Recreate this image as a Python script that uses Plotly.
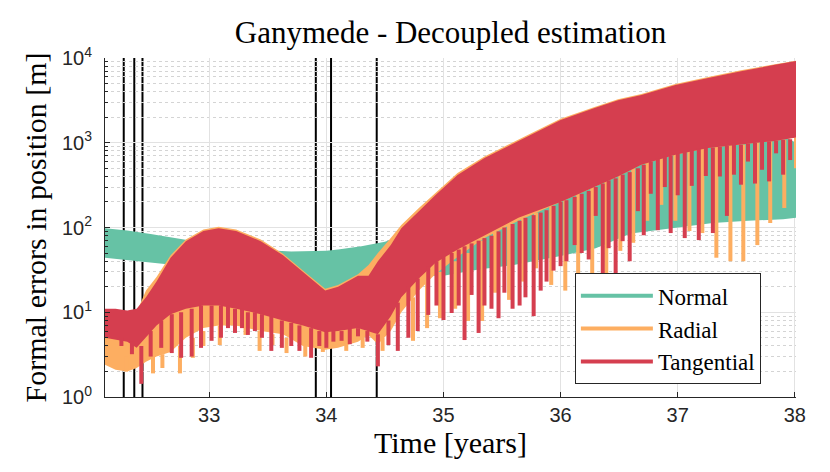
import plotly.graph_objects as go

# epochs of the black vertical markers [years]
marker_t = [32.27, 32.36, 32.43, 33.91, 34.04, 34.43]

# Normal: envelope of the dense oscillation [m]
normal_t = [32.11, 32.3, 32.5, 32.7, 32.9, 33.1, 33.3, 33.5, 33.7, 33.9, 34.0, 34.1, 34.3,
            34.5, 34.7, 35.0, 35.3, 35.6, 36.0, 36.3, 36.6, 37.0, 37.3, 37.6, 37.9, 38.01]
normal_hi = [98, 92, 84, 75, 68, 63, 58, 54, 52, 52, 53, 55, 60,
             68, 85, 150, 200, 260, 350, 500, 700, 900, 1000, 1100, 1200, 1000]
normal_lo = [44, 41, 38, 36, 34, 32, 30, 28, 24, 19, 17, 19, 24,
             28, 27, 27, 32, 36, 46, 57, 85, 100, 113, 120, 125, 130]

# Radial / Tangential share the same time samples
band_t = [32.11, 32.2, 32.3, 32.38, 32.46, 32.55, 32.67, 32.8, 32.95, 33.08, 33.23, 33.44,
          33.63, 33.8, 33.99, 34.1, 34.27, 34.36, 34.44, 34.55, 34.64, 34.79, 34.93, 35.12,
          35.35, 35.64, 36.0, 36.29, 36.49, 36.69, 36.98, 37.26, 37.54, 37.83, 38.01]
radial_hi = [9.5, 9, 8.5, 10, 18, 26, 47, 72, 95, 102, 95, 72,
             49, 31, 19, 21, 28, 36, 50, 75, 107, 170, 255, 440,
             690, 1100, 1920, 2650, 3250, 3750, 4950, 5950, 7150, 8450, 9300]
radial_lo = [2.4, 2.1, 2.0, 2.2, 2.6, 3.0, 3.4, 5, 6.5, 7, 7, 6,
             5.5, 4.0, 3.6, 3.8, 4.5, 5.4, 4.2, 6, 10, 18, 28, 45,
             75, 120, 200, 300, 400, 550, 720, 870, 950, 1050, 1150]
tang_hi = [11, 11, 10.5, 11, 15, 23, 44, 69, 91, 98, 91, 69,
           47, 30, 18, 20, 27, 27, 40, 62, 98, 156, 240, 417,
           660, 1050, 1860, 2570, 3170, 3650, 4800, 5800, 7000, 8300, 9200]
tang_lo = [5, 4.8, 4.5, 3.8, 5, 7, 9.5, 11, 12, 12, 11, 9.5,
           8, 7, 5.8, 6, 6.5, 6, 5.5, 9, 15, 25, 38, 55,
           80, 130, 200, 300, 400, 550, 720, 870, 950, 1050, 1150]

# deep minima (spikes) below the bands: time, top, bottom
radial_spk_t = [32.29, 32.52, 32.60, 32.75, 32.86, 32.95, 33.09, 33.31, 33.43, 33.54, 33.66,
                33.82, 33.97, 34.17, 34.31, 34.48, 34.74, 34.86, 34.97, 35.10, 35.21, 35.33,
                35.44, 35.56, 35.68, 35.79, 35.92, 36.04, 36.15, 36.27, 36.39, 36.51, 36.62,
                36.74, 36.86, 36.98, 37.10, 37.21, 37.33, 37.45, 37.56, 37.68, 37.79, 37.91, 38.01]
radial_spk_top = [3, 3, 3.2, 4, 5, 6, 7, 7, 6, 5.5, 5,
                  4.5, 4, 4.5, 5, 5, 15, 25, 30, 40, 50, 70,
                  90, 110, 130, 150, 180, 210, 250, 300, 360, 420, 500,
                  600, 650, 720, 800, 860, 900, 930, 950, 1000, 1040, 1080, 1150]
radial_spk_bot = [2.0, 1.9, 2.2, 1.9, 2.9, 4.0, 4.1, 5.4, 3.5, 4.1, 3.3,
                  3.0, 3.4, 3.5, 3.8, 3.5, 4.6, 6.5, 8.5, 11, 7.9, 7.9,
                  17, 14, 23, 33, 21, 18, 20, 22, 22, 53, 66,
                  120, 185, 120, 91, 86, 44, 40, 40, 62, 113, 170, 500]

tang_spk_t = [32.25, 32.34, 32.42, 32.50, 32.59, 32.68, 32.76, 32.85, 32.93, 33.02, 33.10,
              33.16, 33.22, 33.28, 33.33, 33.39, 33.45, 33.53, 33.62, 33.70, 33.77, 33.87,
              33.94, 34.00, 34.06, 34.13, 34.20, 34.27, 34.35, 34.44, 34.53, 34.61, 34.70,
              34.78, 34.87, 34.94, 35.00, 35.07, 35.13, 35.18, 35.24, 35.30, 35.35, 35.41,
              35.47, 35.52, 35.59, 35.65, 35.70, 35.77, 35.83, 35.88, 35.94, 36.00, 36.05,
              36.12, 36.18, 36.24, 36.30, 36.36, 36.41, 36.47, 36.53, 36.59, 36.66, 36.71,
              36.77, 36.83, 36.89, 36.94, 37.00, 37.06, 37.12, 37.18, 37.24, 37.30, 37.36,
              37.42, 37.48, 37.54, 37.60, 37.66, 37.72, 37.78, 37.84, 37.90, 37.96]
tang_spk_top = [5, 4.5, 4, 6, 8, 9.5, 10, 11, 12, 12, 12,
                12, 11, 11, 10, 10, 9.5, 9, 8, 7.5, 7, 6.5,
                6, 6, 6, 6, 6.5, 6.5, 6, 5.5, 8, 13, 20,
                25, 35, 40, 45, 50, 55, 60, 65, 70, 75, 80,
                90, 100, 110, 120, 130, 140, 150, 160, 180, 200, 210,
                230, 250, 270, 300, 330, 360, 380, 420, 450, 500, 550,
                600, 650, 680, 700, 750, 780, 820, 850, 870, 880, 900,
                920, 940, 950, 980, 1000, 1020, 1040, 1060, 1080, 1100]
tang_spk_bot = [4.0, 3.2, 1.43, 3.0, 3.8, 3.3, 2.9, 3.0, 3.8, 4.6, 5.0,
                6.5, 5.7, 6.5, 5.4, 6.0, 5.0, 3.5, 3.8, 4.0, 3.5, 2.9,
                4.0, 3.8, 4.5, 4.6, 4.2, 5.2, 4.5, 2.3, 4.1, 3.5, 5.0,
                6.0, 9.3, 12, 8.1, 9.8, 12, 4.7, 16, 5.7, 12, 11,
                8.5, 17, 11, 12, 15, 9, 18, 23, 31, 35, 40,
                62, 50, 42, 137, 22, 57, 22, 69, 40, 156, 81,
                250, 93, 300, 86, 240, 75, 310, 71, 405, 86, 400,
                137, 420, 320, 600, 330, 480, 350, 750, 420, 625]

GREEN = '#66C2A5'
ORANGE = '#FDAE61'
RED = '#D53E4F'
SERIF = 'Liberation Serif'
SANS = 'Liberation Sans'


def segments(t, top, bot):
    xs, ys = [], []
    for a, b, c in zip(t, top, bot):
        xs += [a, a, None]
        ys += [b, c, None]
    return xs, ys


fig = go.Figure()


def add_band(t, lo, hi, color):
    fig.add_trace(go.Scatter(x=t, y=lo, mode='lines', line=dict(width=0, color=color),
                             showlegend=False, hoverinfo='skip'))
    fig.add_trace(go.Scatter(x=t, y=hi, mode='lines', line=dict(width=0, color=color),
                             fill='tonexty', fillcolor=color, showlegend=False, hoverinfo='skip'))


add_band(normal_t, normal_lo, normal_hi, GREEN)
add_band(band_t, radial_lo, radial_hi, ORANGE)
sx, sy = segments(radial_spk_t, radial_spk_top, radial_spk_bot)
fig.add_trace(go.Scatter(x=sx, y=sy, mode='lines', line=dict(width=4, color=ORANGE),
                         showlegend=False, hoverinfo='skip'))
add_band(band_t, tang_lo, tang_hi, RED)
sx, sy = segments(tang_spk_t, tang_spk_top, tang_spk_bot)
fig.add_trace(go.Scatter(x=sx, y=sy, mode='lines', line=dict(width=4, color=RED),
                         showlegend=False, hoverinfo='skip'))

for name, col in [('Normal', GREEN), ('Radial', ORANGE), ('Tangential', RED)]:
    fig.add_trace(go.Scatter(x=[None], y=[None], mode='lines', name=name,
                             line=dict(width=4, color=col)))

for t in marker_t:
    fig.add_shape(type='line', x0=t, x1=t, y0=0, y1=1, xref='x', yref='paper',
                  line=dict(color='black', width=2), layer='between')

fig.update_layout(
    width=830, height=472,
    margin=dict(l=97, r=42, t=50, b=83),
    paper_bgcolor='white', plot_bgcolor='white',
    font=dict(family=SERIF, color='black'),
    title=dict(text='Ganymede - Decoupled estimation', x=0.5, xref='paper',
               y=1 - 24 / 472, yanchor='middle', font=dict(family=SERIF, size=31, color='black')),
    legend=dict(x=0.68, y=0.365, xanchor='left', yanchor='top', traceorder='normal',
                bgcolor='white', bordercolor='#262626', borderwidth=1,
                font=dict(family=SERIF, size=23, color='black'), itemwidth=72,
                tracegroupgap=0),
    showlegend=True,
)
fig.update_xaxes(range=[32.11, 38.01], tickvals=[33, 34, 35, 36, 37, 38],
                 ticks='inside', ticklen=5, tickcolor='#262626',
                 showline=True, linecolor='#262626', linewidth=1,
                 showgrid=True, gridcolor='#e2e2e2', gridwidth=1, zeroline=False,
                 tickfont=dict(family=SANS, size=20, color='#262626'), ticklabelstandoff=0,
                 title=dict(text='Time [years]', font=dict(family=SERIF, size=30, color='black'),
                            standoff=2))
fig.update_yaxes(type='log', range=[0, 4],
                 tickvals=[1, 10, 100, 1000, 10000],
                 ticktext=['10<sup>0</sup>', '10<sup>1</sup>', '10<sup>2</sup>',
                           '10<sup>3</sup>', '10<sup>4</sup>'],
                 ticks='inside', ticklen=5, tickcolor='#262626',
                 showline=True, linecolor='#262626', linewidth=1,
                 showgrid=True, gridcolor='#e2e2e2', gridwidth=1, zeroline=False,
                 minor=dict(dtick='D1', showgrid=True, gridcolor='#d4d4d4', griddash='dot',
                            ticks='inside', ticklen=3, tickcolor='#262626'),
                 tickfont=dict(family=SANS, size=20, color='#262626'), ticklabelstandoff=8,
                 title=dict(text='Formal errors in position [m]',
                            font=dict(family=SERIF, size=30, color='black'), standoff=6))

fig.write_html('out.html')
